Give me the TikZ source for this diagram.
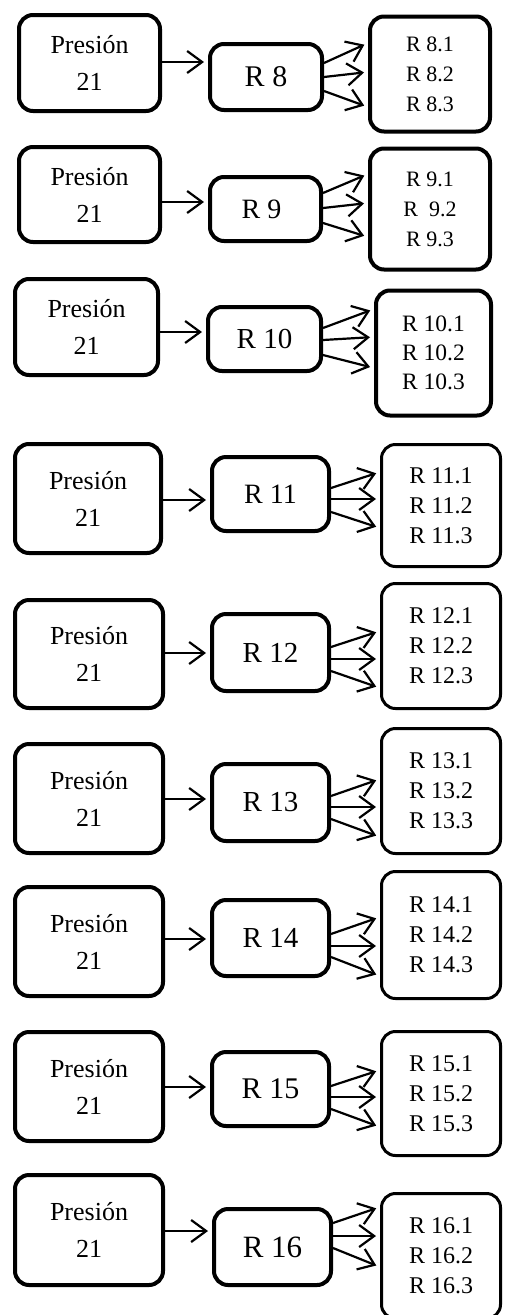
\documentclass[tikz,border=0pt]{standalone}
\usepackage{fontspec}
\setmainfont{Liberation Serif}
\usetikzlibrary{arrows.meta}
\tikzset{
 box/.style={draw, line width=4pt, rounded corners=14pt, align=center, inner sep=0pt},
 lbox/.style={box, font=\fontsize{26}{37}\selectfont},
 mbox/.style={box, font=\fontsize{29}{34}\selectfont},
 rbox/.style={box, font=\fontsize{22}{30}\selectfont},
 rboxthin/.style={box, line width=3pt, font=\fontsize{24}{30}\selectfont},
 arr/.style={line width=2.2pt, -{Straight Barb[length=15pt,width=22pt]}, shorten >=4pt},
 sz/.style n args={2}{minimum width=#1pt, minimum height=#2pt},
}
\newcommand\fanarrows[8]{%
 \draw[arr] (#1.east |- 0,#3) -- (#2.west |- 0,#4);
 \draw[arr] (#1.east |- 0,#5) -- (#2.west |- 0,#6);
 \draw[arr] (#1.east |- 0,#7) -- (#2.west |- 0,#8);
}
\begin{document}
\begin{tikzpicture}[x=1pt,y=-1pt]
\useasboundingbox[fill=white] (0,0) rectangle (504,1315);
% Row 8
\node[lbox, sz={141}{96}] (L8) at (89.5,63) {Presión\\21};
\node[mbox, sz={112}{66}, font=\fontsize{30}{34}\selectfont] (M8) at (266,77) {R 8};
\node[rbox, sz={120}{115}] (R8) at (430,74) {R 8.1\\R 8.2\\R 8.3};
\draw[arr] (L8.east |- 0,62) -- (M8.west |- 0,62);
\fanarrows{M8}{R8}{63}{43}{77}{72}{91}{107}
% Row 9
\node[lbox, sz={141}{95}] (L9) at (89.5,194.5) {Presión\\21};
\node[mbox, sz={111}{64}, font=\fontsize{28}{34}\selectfont] (M9) at (265.5,209) {R 9\hspace{8pt}};
\node[rbox, sz={120}{121}] (R9) at (430,209) {R 9.1\\R~ 9.2\\R 9.3};
\draw[arr] (L9.east |- 0,202) -- (M9.west |- 0,202);
\fanarrows{M9}{R9}{193}{174}{208}{203}{223}{237}
% Row 10
\node[lbox, sz={143}{96}] (L10) at (86.5,327) {Presión\\21};
\node[mbox, sz={113}{64}] (M10) at (264.5,339) {R 10};
\node[rbox, sz={115}{125}, font=\fontsize{23.5}{29}\selectfont] (R10) at (433.5,353) {R 10.1\\R 10.2\\R 10.3};
\draw[arr] (L10.east |- 0,332) -- (M10.west |- 0,332);
\fanarrows{M10}{R10}{328}{309}{340}{337}{355}{368}
% Row 11
\node[lbox, sz={146}{109}] (L11) at (88,498.5) {Presión\\21};
\node[mbox, sz={117}{74}, font=\fontsize{28}{34}\selectfont] (M11) at (270.5,494) {R 11};
\node[rboxthin, sz={119}{122}] (R11) at (441,505.5) {R 11.1\\R 11.2\\R 11.3};
\draw[arr] (L11.east |- 0,500) -- (M11.west |- 0,500);
\fanarrows{M11}{R11}{488}{472}{499}{499}{512}{528}
% Row 12
\node[lbox, sz={148}{108}] (L12) at (89,654) {Presión\\21};
\node[mbox, sz={117}{77}] (M12) at (270.5,652.5) {R 12};
\node[rboxthin, sz={119}{125}] (R12) at (441,646) {R 12.1\\R 12.2\\R 12.3};
\draw[arr] (L12.east |- 0,653) -- (M12.west |- 0,653);
\fanarrows{M12}{R12}{647}{631}{659}{659}{671}{688}
% Row 13
\node[lbox, sz={148}{109}] (L13) at (89,798.5) {Presión\\21};
\node[mbox, sz={117}{77}] (M13) at (270.5,802.5) {R 13};
\node[rboxthin, sz={119}{125}] (R13) at (441,791) {R 13.1\\R 13.2\\R 13.3};
\draw[arr] (L13.east |- 0,799) -- (M13.west |- 0,799);
\fanarrows{M13}{R13}{796}{779}{807}{807}{819}{837}
% Row 14
\node[lbox, sz={148}{109}] (L14) at (89,941.5) {Presión\\21};
\node[mbox, sz={117}{76}] (M14) at (270.5,938) {R 14};
\node[rboxthin, sz={119}{127}] (R14) at (441,935) {R 14.1\\R 14.2\\R 14.3};
\draw[arr] (L14.east |- 0,939) -- (M14.west |- 0,939);
\fanarrows{M14}{R14}{934}{917}{946}{946}{957}{976}
% Row 15
\node[lbox, sz={148}{109}] (L15) at (89,1086.5) {Presión\\21};
\node[mbox, sz={117}{74}, font=\fontsize{30}{34}\selectfont] (M15) at (270.5,1089) {R 15};
\node[rboxthin, sz={119}{124}] (R15) at (441,1093.5) {R 15.1\\R 15.2\\R 15.3};
\draw[arr] (L15.east |- 0,1087) -- (M15.west |- 0,1087);
\fanarrows{M15}{R15}{1086}{1070}{1097}{1097}{1109}{1127}
% Row 16
\node[lbox, sz={148}{110}] (L16) at (89,1230) {Presión\\21};
\node[mbox, sz={117}{76}, font=\fontsize{31}{34}\selectfont] (M16) at (272.5,1247) {R 16};
\node[rboxthin, sz={119}{125}] (R16) at (441,1256) {R 16.1\\R 16.2\\R 16.3};
\draw[arr] (L16.east |- 0,1231) -- (M16.west |- 0,1231);
\fanarrows{M16}{R16}{1223}{1207}{1236}{1236}{1248}{1267}
\end{tikzpicture}
\end{document}
